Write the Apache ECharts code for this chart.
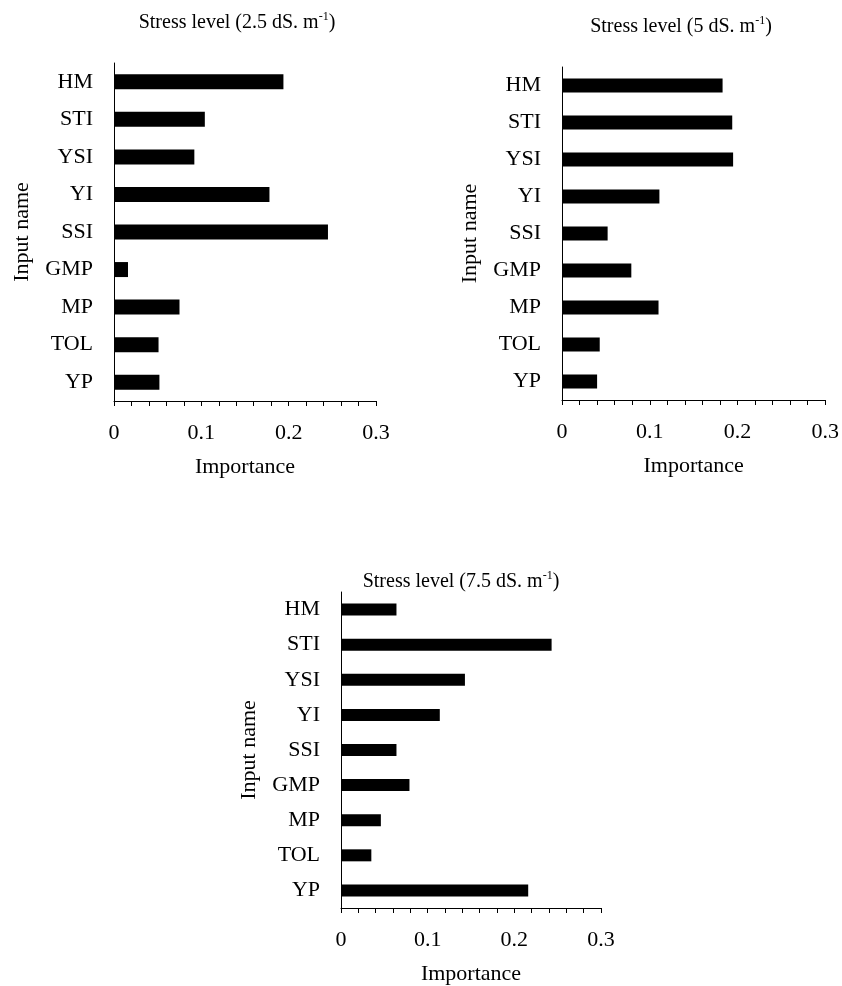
<!DOCTYPE html>
<html>
<head>
<meta charset="utf-8">
<title>Input importance under salinity stress</title>
<script src="https://cdn.jsdelivr.net/npm/echarts@6/dist/echarts.min.js"></script>
<style>
  html, body { margin: 0; padding: 0; background: #fff; }
  #chart { width: 842px; height: 986px; }
</style>
</head>
<body>
<div id="chart"></div>
<script>
// Input variables, listed top to bottom
const inputNames = ['HM', 'STI', 'YSI', 'YI', 'SSI', 'GMP', 'MP', 'TOL', 'YP'];

// Importance of each input at each salinity level
const importance25 = [0.194, 0.104, 0.092, 0.178, 0.245, 0.016, 0.075, 0.051, 0.052];
const importance50 = [0.183, 0.194, 0.195, 0.111, 0.052, 0.079, 0.110, 0.043, 0.040];
const importance75 = [0.064, 0.243, 0.143, 0.114, 0.064, 0.079, 0.046, 0.035, 0.216];

// Stress levels (dS m-1) used in the panel titles
const stressLevels = ['2.5', '5', '7.5'];

// Importance axis
const axisMin = 0;
const axisMax = 0.3;
const axisStep = 0.1;

const FONT = '"Liberation Serif", "Times New Roman", serif';

const panels = [
  { values: importance25, grid: { left: 114, top: 63, width: 262, height: 338 }, barWidth: 15, title: [237, 23] },
  { values: importance50, grid: { left: 562, top: 67, width: 265, height: 333 }, barWidth: 14, title: [681, 27] },
  { values: importance75, grid: { left: 341, top: 592, width: 260, height: 319 }, barWidth: 12, title: [461, 582] }
];

const grids = [], xAxes = [], yAxes = [], series = [], graphics = [];

panels.forEach((p, i) => {
  grids.push(Object.assign({ containLabel: false }, p.grid));
  xAxes.push({
    type: 'value',
    gridIndex: i,
    min: axisMin,
    max: axisMax,
    interval: axisStep,
    name: 'Importance',
    nameLocation: 'middle',
    nameGap: 55,
    nameTextStyle: { fontFamily: FONT, fontSize: 22, color: '#000' },
    axisLine: { show: true, lineStyle: { color: '#000', width: 1 } },
    axisTick: { show: true, length: 5, lineStyle: { color: '#000' } },
    minorTick: { show: true, splitNumber: 5, length: 5, lineStyle: { color: '#000' } },
    splitLine: { show: false },
    axisLabel: {
      margin: 21,
      fontFamily: FONT,
      fontSize: 22,
      color: '#000',
      formatter: v => (v === 0 ? '0' : v.toFixed(1))
    }
  });
  yAxes.push({
    type: 'category',
    gridIndex: i,
    data: inputNames,
    inverse: true,
    name: 'Input name',
    nameLocation: 'middle',
    nameGap: 81,
    nameRotate: 90,
    nameTextStyle: { fontFamily: FONT, fontSize: 22, color: '#000' },
    axisLine: { show: true, lineStyle: { color: '#000', width: 1 } },
    axisTick: { show: false },
    splitLine: { show: false },
    axisLabel: { margin: 21, fontFamily: FONT, fontSize: 22, color: '#000' }
  });
  series.push({
    type: 'bar',
    xAxisIndex: i,
    yAxisIndex: i,
    data: p.values,
    barWidth: p.barWidth,
    itemStyle: { color: '#000' },
    silent: true
  });
  graphics.push({
    type: 'text',
    x: p.title[0],
    y: p.title[1],
    style: {
      text: '{a|Stress level (' + stressLevels[i] + ' dS.}{g| m}{s|-1}{a|)}',
      align: 'center',
      verticalAlign: 'middle',
      fontFamily: FONT,
      fontSize: 20,
      fill: '#000',
      rich: {
        a: { fontFamily: FONT, fontSize: 20, color: '#000', lineHeight: 24, verticalAlign: 'middle' },
        g: { fontFamily: FONT, fontSize: 20, color: '#666', lineHeight: 24, verticalAlign: 'middle' },
        s: { fontFamily: FONT, fontSize: 12, color: '#666', lineHeight: 24, verticalAlign: 'top' }
      }
    }
  });
});

const chart = echarts.init(document.getElementById('chart'), null, { renderer: 'canvas' });
chart.setOption({
  animation: false,
  backgroundColor: '#fff',
  grid: grids,
  xAxis: xAxes,
  yAxis: yAxes,
  series: series,
  graphic: graphics
});
</script>
</body>
</html>
